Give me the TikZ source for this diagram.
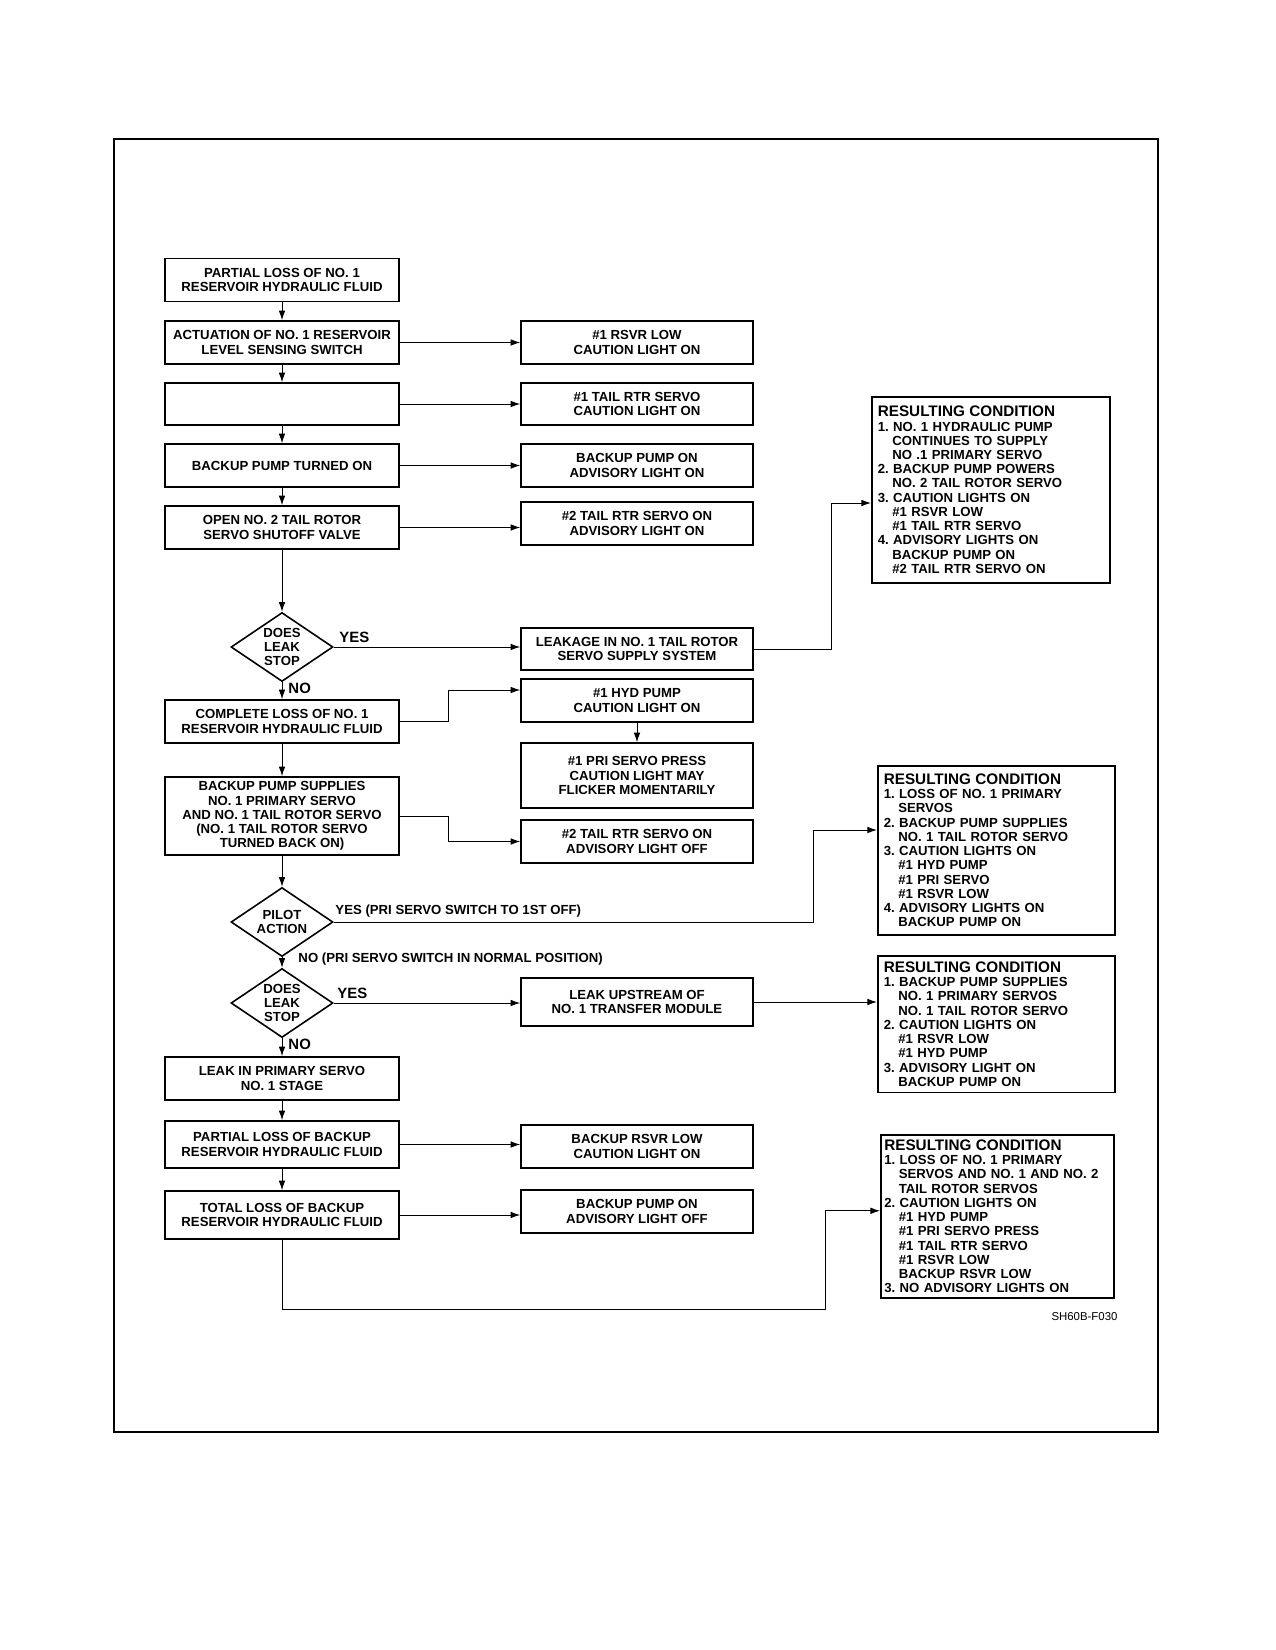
\documentclass[tikz,border=0pt]{standalone}
\usepackage{fontspec}
\setmainfont{Liberation Sans}
\usetikzlibrary{positioning,shapes.geometric,arrows.meta}
\frenchspacing
\newcommand{\sangria}{\hspace*{1.1em}}
\newcommand{\titulo}{{\fontsize{8.7}{9.6}\selectfont RESULTING CONDITION}}

\begin{document}
\begin{tikzpicture}[x=0.02cm, y=-0.02cm, >={Latex[length=5.5pt,width=3.8pt]}, line width=0.55pt,
  font=\fontsize{7.5}{8.1}\selectfont\bfseries]
\tikzstyle{caja} = [draw, line width=0.9pt, minimum width=4.68cm, minimum height=0.86cm, align=center, inner sep=1pt]
\tikzstyle{aviso} = [caja, minimum width=4.64cm]
\tikzstyle{rombo} = [draw, line width=0.9pt, diamond, aspect=1.5, inner sep=0pt, minimum width=2.04cm, minimum height=1.38cm, align=center]
\tikzstyle{resultado} = [draw, line width=0.9pt, anchor=north west, align=left, inner sep=0.12cm]
\tikzstyle{etiqueta} = [inner sep=0pt, anchor=west]

\useasboundingbox (0,0) rectangle (1275,1650);
\draw[line width=1.1pt] (113.6,138.9) rectangle (1158.3,1431.8);

% main column
\node[caja] (B1) at (282,280) {PARTIAL LOSS OF NO. 1\\RESERVOIR HYDRAULIC FLUID};
\node[caja] (B2) at (282,342.5) {ACTUATION OF NO. 1 RESERVOIR\\LEVEL SENSING SWITCH};
\node[caja, minimum height=0.84cm] (B3) at (282,404) {};
\node[caja] (B4) at (282,465.5) {BACKUP PUMP TURNED ON};
\node[caja] (B5) at (282,527.5) {OPEN NO. 2 TAIL ROTOR\\SERVO SHUTOFF VALVE};
\node[rombo] (D1) at (282,647) {DOES\\LEAK\\STOP};
\node[caja] (B6) at (282,721.5) {COMPLETE LOSS OF NO. 1\\RESERVOIR HYDRAULIC FLUID};
\node[caja, minimum height=1.56cm] (B7) at (282,816) {BACKUP PUMP SUPPLIES\\NO. 1 PRIMARY SERVO\\AND NO. 1 TAIL ROTOR SERVO\\(NO. 1 TAIL ROTOR SERVO\\TURNED BACK ON)};
\node[rombo] (D2) at (282,922) {PILOT\\ACTION};
\node[rombo] (D3) at (282,1003) {DOES\\LEAK\\STOP};
\node[caja] (B8) at (282,1078.5) {LEAK IN PRIMARY SERVO\\NO. 1 STAGE};
\node[caja, minimum height=0.94cm] (B9) at (282,1144.5) {PARTIAL LOSS OF BACKUP\\RESERVOIR HYDRAULIC FLUID};
\node[caja, minimum height=0.96cm] (B10) at (282,1215) {TOTAL LOSS OF BACKUP\\RESERVOIR HYDRAULIC FLUID};

% lights
\node[aviso] (R1) at (637,342.5) {\#1 RSVR LOW\\CAUTION LIGHT ON};
\node[aviso, minimum height=0.84cm] (R2) at (637,404) {\#1 TAIL RTR SERVO\\CAUTION LIGHT ON};
\node[aviso] (R3) at (637,465.5) {BACKUP PUMP ON\\ADVISORY LIGHT ON};
\node[aviso] (R4) at (637,523.5) {\#2 TAIL RTR SERVO ON\\ADVISORY LIGHT ON};
\node[aviso, minimum height=0.84cm] (R5) at (637,649) {LEAKAGE IN NO. 1 TAIL ROTOR\\SERVO SUPPLY SYSTEM};
\node[aviso] (R6) at (637,700.5) {\#1 HYD PUMP\\CAUTION LIGHT ON};
\node[aviso, minimum height=1.3cm] (R7) at (637,775.5) {\#1 PRI SERVO PRESS\\CAUTION LIGHT MAY\\FLICKER MOMENTARILY};
\node[aviso] (R8) at (637,841.5) {\#2 TAIL RTR SERVO ON\\ADVISORY LIGHT OFF};
\node[aviso, minimum height=0.96cm] (R9) at (637,1002) {LEAK UPSTREAM OF\\NO. 1 TRANSFER MODULE};
\node[aviso] (R10) at (637,1146.5) {BACKUP RSVR LOW\\CAUTION LIGHT ON};
\node[aviso] (R11) at (637,1211.5) {BACKUP PUMP ON\\ADVISORY LIGHT OFF};

% resulting conditions
\node[resultado, text width=4.52cm, minimum height=3.72cm] (C1) at (871,396) {\titulo\\
1. NO. 1 HYDRAULIC PUMP\\ \sangria CONTINUES TO SUPPLY\\ \sangria NO .1 PRIMARY SERVO\\
2. BACKUP PUMP POWERS\\ \sangria NO. 2 TAIL ROTOR SERVO\\
3. CAUTION LIGHTS ON\\ \sangria\#1 RSVR LOW\\ \sangria\#1 TAIL RTR SERVO\\
4. ADVISORY LIGHTS ON\\ \sangria BACKUP PUMP ON\\ \sangria\#2 TAIL RTR SERVO ON};
\node[resultado, text width=4.50cm, minimum height=3.38cm] (C2) at (877,765) {\titulo\\
1. LOSS OF NO. 1 PRIMARY\\ \sangria SERVOS\\
2. BACKUP PUMP SUPPLIES\\ \sangria NO. 1 TAIL ROTOR SERVO\\
3. CAUTION LIGHTS ON\\ \sangria\#1 HYD PUMP\\ \sangria\#1 PRI SERVO\\ \sangria\#1 RSVR LOW\\
4. ADVISORY LIGHTS ON\\ \sangria BACKUP PUMP ON};
\node[resultado, text width=4.50cm, minimum height=2.72cm] (C3) at (877,955) {\titulo\\
1. BACKUP PUMP SUPPLIES\\ \sangria NO. 1 PRIMARY SERVOS\\ \sangria NO. 1 TAIL ROTOR SERVO\\
2. CAUTION LIGHTS ON\\ \sangria\#1 RSVR LOW\\ \sangria\#1 HYD PUMP\\
3. ADVISORY LIGHT ON\\ \sangria BACKUP PUMP ON};
\node[resultado, text width=4.52cm, minimum height=3.26cm, inner sep=0.07cm] (C4) at (880,1134) {\titulo\\
1. LOSS OF NO. 1 PRIMARY\\ \sangria SERVOS AND NO. 1 AND NO. 2\\ \sangria TAIL ROTOR SERVOS\\
2. CAUTION LIGHTS ON\\ \sangria\#1 HYD PUMP\\ \sangria\#1 PRI SERVO PRESS\\ \sangria\#1 TAIL RTR SERVO\\ \sangria\#1 RSVR LOW\\ \sangria BACKUP RSVR LOW\\
3. NO ADVISORY LIGHTS ON};

% labels
\node[etiqueta, font=\fontsize{8.5}{9}\selectfont\bfseries] (si1) at (339,637.5) {YES};
\node[etiqueta, font=\fontsize{8.5}{9}\selectfont\bfseries] (no1) at (288,688) {NO};
\node[etiqueta] (si2) at (335,911) {YES (PRI SERVO SWITCH TO 1ST OFF)};
\node[etiqueta] (no2) at (298,959) {NO (PRI SERVO SWITCH IN NORMAL POSITION)};
\node[etiqueta, font=\fontsize{8.5}{9}\selectfont\bfseries] (si3) at (337,993) {YES};
\node[etiqueta, font=\fontsize{8.5}{9}\selectfont\bfseries] (no3) at (288,1044) {NO};
\node[inner sep=0pt, anchor=east, font=\fontsize{6.5}{7}\selectfont] (ref) at (1118,1317) {SH60B-F030};

% connectors
\draw[->] (B1) -- (B2);
\draw[->] (B2) -- (B3);
\draw[->] (B3) -- (B4);
\draw[->] (B4) -- (B5);
\draw[->] (B5) -- (D1);
\draw[->] (D1) -- (B6);
\draw[->] (B6) -- (B7);
\draw[->] (B7) -- (D2);
\draw[->] (D2) -- (D3);
\draw[->] (D3) -- (B8);
\draw[->] (B8) -- (B9);
\draw[->] (B9) -- (B10);

\draw[->] (B2) -- (R1);
\draw[->] (B3) -- (R2);
\draw[->] (B4) -- (R3);
\draw[->] (B5.east) -- (B5.east -| R4.west);
\draw[->] (D1.east) -- (D1.east -| R5.west);
\draw[->] (R5.east) -| (831,503) -- (831,503 -| C1.west);
\draw[->] (B6.east) -- ++(49,0) |- ([yshift=0.21cm]R6.west);
\draw[->] (R6) -- (R7);
\draw[->] (B7.east) -- ++(49,0) |- (R8.west);
\draw[->] (D2.east) -| (813,830) -- (813,830 -| C2.west);
\draw[->] (D3.east) -- (D3.east -| R9.west);
\draw[->] (R9.east) -- (R9.east -| C3.west);
\draw[->] (B9.east) -- (B9.east -| R10.west);
\draw[->] (B10.east) -- (B10.east -| R11.west);
\draw[->] (B10.south) |- (825,1309) |- ([yshift=0.11cm]C4.west);
\end{tikzpicture}
\end{document}
